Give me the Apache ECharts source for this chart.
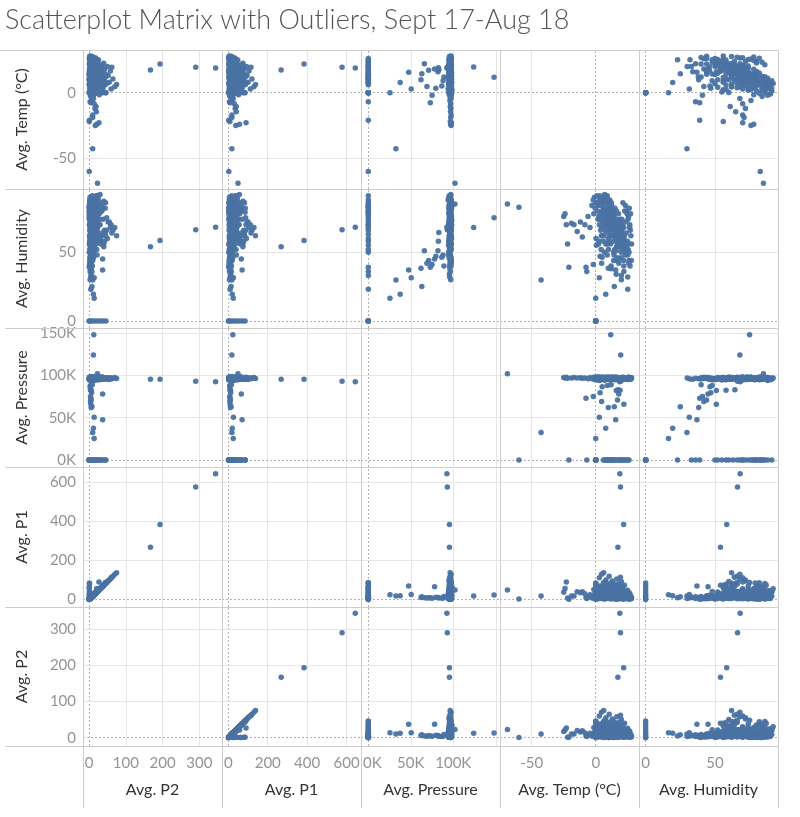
<!DOCTYPE html>
<html><head><meta charset="utf-8">
<script src="https://cdn.jsdelivr.net/npm/echarts@6/dist/echarts.min.js"></script>
<style>html,body{margin:0;padding:0;background:#fff}#c{width:800px;height:817px}</style>
</head><body><div id="c"></div>
<script>
// ---------------- text ----------------
const chartTitle = 'Scatterplot Matrix with Outliers, Sept 17-Aug 18';
// field order inside every record: [P2, P1, Pressure, Temp, Humidity]
const fieldNames = ['Avg. P2', 'Avg. P1', 'Avg. Pressure', 'Avg. Temp (°C)', 'Avg. Humidity'];
const columnFields = [0, 1, 2, 3, 4];   // left -> right
const rowFields = [3, 4, 2, 1, 0];      // top -> bottom
const tickValues = {
  0: [0, 100, 200, 300],
  1: [0, 200, 400, 600],
  2: [0, 50000, 100000, 150000],
  3: [-50, 0],
  4: [0, 50]
};

// ---------------- data ----------------
// [P2, P1, Pressure, Temp, Humidity]
const pmOutliers = [
  [167, 268, 95500, 17.3, 54],
  [193, 384, 95500, 21.8, 58.5],
  [290, 577, 93000, 19.3, 66.3],
  [344, 644, 92500, 18.8, 68.2]
];
const tempOutliers = [
  [23, 49, 102000, -69, 85],
  [0.5, 2.5, 0, -60, 82.7],
  [10, 18, 32500, -42.7, 29.8]
];
const pressureOutliers = [
  [13, 23, 148000, 11.7, 75],
  [12, 18, 124000, 19.5, 68]
];
const midPressure = [
  [14, 25, 25500, 0, 16.5],
  [12, 20, 37500, 7.8, 19.5],
  [14, 26, 50500, 2.8, 31.5],
  [37, 70, 47500, 15.6, 37],
  [8, 14, 63000, 14.5, 25],
  [6, 11, 62000, 9.8, 38.3],
  [5, 9, 66000, 22, 51],
  [4, 8, 69000, 4.6, 42],
  [6, 10, 71000, 17, 44],
  [5, 9, 73000, -7.6, 39],
  [4, 7, 75000, -1.9, 41],
  [37, 66, 78000, 18, 45],
  [7, 12, 79500, 3.4, 47],
  [6, 11, 82000, 16, 51],
  [5, 10, 82500, 19, 58],
  [4, 9, 83000, 17.5, 64.4],
  [3, 7, 86500, 5, 46.4],
  [4, 8, 88000, 9, 48],
  [9, 16, 89000, 12, 40]
];
const coldTail = [
  [17, 38, 97500, -25, 76],
  [21, 57, 97000, -24, 78],
  [27, 90, 97800, -23, 70],
  [1, 8, 96500, -22, 56],
  [10, 18, 97000, -19, 71],
  [10, 18, 97500, -17, 70],
  [20, 40, 96800, -14.5, 65],
  [16, 35, 97200, -12, 72],
  [19, 40, 96500, -10.5, 61],
  [14, 30, 97000, -8.5, 70],
  [8, 16, 96000, -6, 76],
  [12, 25, 97500, -4.5, 68]
];
const pressureZero = [
  [2, 5, 0, 8, 88], [5, 10, 0, 10, 85], [3, 7, 0, 12, 80], [8, 15, 0, 14, 78],
  [12, 22, 0, 16, 72], [4, 9, 0, 18, 70], [6, 12, 0, 20, 66], [15, 28, 0, 22, 60],
  [3, 6, 0, 24, 55], [2, 4, 0, 26, 50], [20, 40, 0, 9, 91], [25, 48, 0, 11, 83],
  [9, 18, 0, 13, 76], [30, 58, 0, 7, 86], [1, 3, 0, 15, 74], [44, 86, 0, 6, 82],
  [7, 14, 0, 17, 68], [10, 20, 0, 19, 63], [4, 8, 0, 21, 58], [2, 5, 0, 23, 52],
  [35, 65, 0, 8, 80], [1, 2, 0, -21, 39], [3, 6, 0, -7, 36], [5, 9, 0, 25, 23],
  [6, 12, 0, 20, 33], [18, 34, 0, 12, 70], [0.5, 30, 0, 14, 77], [0.5, 60, 0, 10, 84],
  [1, 85, 0, 12, 79]
];
const allZeroWeather = [
  [0, 0, 0, 0, 0], [3, 6, 0, 0, 0], [8, 15, 0, 0, 0], [14, 27, 0, 0, 0],
  [22, 40, 0, 0, 0], [30, 55, 0, 0, 0], [38, 70, 0, 0, 0], [46, 85, 0, 0, 0]
];
const mainCluster = [
  [5, 9, 96000, -3, 84], [12, 22, 97500, -2, 88], [28, 52, 96500, -1.5, 78], [8, 15, 95000, -1, 90],
  [18, 33, 98000, -0.5, 82], [45, 82, 96000, 0, 86], [3, 6, 94500, 0.5, 55], [22, 40, 97000, 1, 91],
  [10, 19, 95500, 1.5, 80], [35, 64, 98500, 2, 84], [6, 11, 96500, 2.5, 58], [15, 28, 94000, 3, 88],
  [60, 112, 97000, 2.8, 70],
  [4, 8, 95000, 3.5, 78], [25, 46, 96000, 4, 89], [70, 130, 97500, 4.5, 68], [9, 17, 98000, 5, 85],
  [14, 26, 95500, 5.5, 76], [40, 75, 96500, 6, 87], [2, 4, 94500, 6.5, 70], [30, 56, 97000, 7, 92],
  [18, 33, 96000, 7.5, 79], [55, 100, 95000, 8, 72], [7, 13, 97500, 3.8, 66], [12, 23, 96800, 4.8, 62],
  [33, 60, 95800, 5.2, 80], [75, 138, 96300, 6.2, 62], [20, 37, 94800, 6.8, 82], [11, 21, 98200, 7.8, 73],
  [48, 88, 96700, 7.3, 75], [3, 6, 95200, 8, 90],
  [16, 30, 96000, 8.5, 86], [6, 12, 97000, 9, 77], [38, 70, 95500, 9.5, 82], [24, 44, 98000, 10, 70],
  [65, 120, 96500, 10.5, 66], [9, 17, 94500, 11, 88], [29, 54, 97500, 11.5, 74], [4, 8, 96000, 12, 68],
  [13, 24, 95000, 12.5, 84], [52, 95, 97000, 13, 72], [19, 35, 96300, 8.8, 64], [8, 15, 95700, 9.8, 60],
  [42, 78, 96900, 10.8, 66], [27, 50, 94900, 11.8, 79], [2, 5, 97800, 12.8, 76], [15, 27, 96100, 9.3, 71],
  [33, 62, 95300, 10.3, 58], [10, 18, 97200, 12.3, 62],
  [5, 10, 96000, 13.5, 78], [21, 39, 95500, 14, 70], [44, 80, 97000, 14.5, 64], [11, 20, 96500, 15, 82],
  [3, 6, 98000, 15.5, 60], [26, 48, 95000, 16, 74], [58, 105, 96800, 16.5, 68], [8, 15, 97400, 17, 56],
  [17, 31, 94600, 17.5, 66], [36, 66, 96200, 13.8, 58], [13, 25, 95800, 14.8, 52], [6, 11, 97100, 15.8, 72],
  [30, 55, 96400, 16.8, 62], [2, 4, 95400, 17.8, 78], [22, 41, 97700, 13.3, 66], [9, 16, 94700, 14.3, 48],
  [15, 28, 96600, 16.3, 54],
  [4, 8, 96000, 18, 62], [19, 35, 95500, 18.5, 70], [32, 60, 97000, 19, 56], [10, 19, 96500, 19.5, 66],
  [50, 92, 95300, 20, 60], [6, 12, 97500, 20.5, 52], [24, 45, 96200, 21, 64], [14, 26, 94800, 21.5, 58],
  [3, 6, 97200, 22, 68], [40, 74, 96700, 22.5, 54], [8, 15, 95700, 23, 48], [17, 31, 96900, 18.8, 74],
  [12, 22, 95100, 19.8, 46], [28, 52, 97800, 20.8, 70], [5, 9, 96300, 21.8, 44], [62, 115, 96100, 19.3, 64],
  [7, 13, 96000, 23.5, 72], [15, 28, 95500, 24, 52], [3, 6, 97000, 24.5, 78], [22, 41, 96500, 25, 48],
  [10, 18, 95000, 25.5, 56], [5, 9, 97500, 26, 44], [18, 33, 96000, 26.5, 68], [2, 4, 96800, 27, 66],
  [9, 17, 95600, 27.5, 62], [4, 8, 97200, 28, 56], [12, 22, 96400, 23.8, 64], [26, 48, 95200, 24.8, 58],
  [6, 11, 97700, 25.8, 42],
  [4, 8, 96000, 12, 38], [6, 11, 95500, 16, 34], [3, 6, 97000, 20, 30], [8, 15, 96500, 22, 36],
  [5, 9, 95800, 25, 32], [2, 4, 96200, 18, 42], [10, 19, 97300, 14, 44],
  [0.5, 20, 96500, 10, 75], [1, 45, 96000, 14, 70], [0.8, 65, 97000, 6, 80], [1.5, 80, 95500, 18, 62],
  [2, 35, 96800, 22, 58]
];
const lowPmCluster = [
  [3, 6, 95800, 0.2, 60], [7, 13, 96900, 1.2, 86], [2, 4, 97400, 2.2, 56], [9, 17, 95300, 3.2, 91], [4, 8, 96200, 4.2, 52],
  [6, 12, 97600, 5.8, 88], [1, 3, 94900, 6.8, 50], [8, 14, 96400, 7.2, 86], [5, 10, 95900, 8.2, 68], [11, 20, 97100, 9.2, 82],
  [3, 5, 96700, 10.2, 78], [7, 12, 95100, 11.2, 72], [2, 4, 97900, 12.2, 86], [10, 18, 96300, 13.2, 62], [4, 7, 95600, 14.2, 76],
  [6, 11, 97300, 15.2, 66], [1, 2, 96100, 16.2, 80], [9, 16, 95400, 17.2, 60], [3, 6, 97000, 18.2, 72], [5, 9, 96600, 19.2, 58],
  [8, 14, 95200, 20.2, 68], [2, 3, 97500, 21.2, 86], [7, 13, 96000, 22.2, 56], [4, 8, 96800, 23.2, 84], [6, 10, 95700, 24.2, 80],
  [3, 5, 97100, 25.2, 74], [1, 2, 96400, 26.2, 82], [5, 9, 95500, 27.2, 78], [2, 4, 96900, 27.8, 44], [4, 7, 97300, 26.8, 40],
  [8, 15, 96200, 1.8, 74], [12, 22, 95600, 3.6, 84], [14, 26, 97200, 5.4, 72], [11, 20, 96500, 6.4, 90], [13, 24, 95800, 8.4, 78],
  [10, 19, 97700, 9.6, 74], [12, 21, 96100, 10.6, 86], [14, 25, 95300, 12.6, 70], [11, 19, 96900, 13.6, 80], [13, 23, 97400, 15.4, 62],
  [10, 18, 95900, 16.6, 70], [12, 21, 96300, 17.6, 64], [14, 24, 97000, 18.6, 54], [11, 20, 95600, 19.6, 72], [13, 22, 96700, 20.6, 60],
  [10, 17, 97200, 22.6, 80], [12, 20, 95400, 23.6, 50], [14, 26, 96500, 24.6, 56], [11, 19, 97800, 25.6, 76], [13, 24, 96000, 26.6, 70],
  [2, 4, 96600, 11.6, 56], [4, 8, 95300, 13.9, 50], [3, 6, 97500, 16.9, 46], [6, 11, 96200, 19.9, 50], [1, 3, 95800, 21.9, 40],
  [5, 9, 97100, 9.9, 52], [3, 5, 96400, 7.9, 56], [7, 13, 95900, 5.9, 58], [2, 5, 96800, 4.4, 62], [9, 16, 97400, 15.9, 44]
];
const midPmCluster = [
  [20, 36, 96000, 2.4, 76], [23, 42, 97200, 4.9, 85], [19, 34, 95500, 9.4, 88], [21, 38, 96700, 12.9, 76], [23, 43, 95900, 15.2, 68],
  [20, 37, 97300, 17.9, 62], [22, 40, 96300, 20.4, 74], [19, 35, 95700, 23.3, 56], [21, 39, 96900, 25.3, 52], [23, 42, 97600, 22.3, 62],
  [30, 55, 96000, 8.9, 70], [34, 62, 95400, 11.3, 62], [31, 57, 97100, 17.3, 60], [38, 70, 96500, 3.3, 74], [27, 50, 95800, 20.1, 58],
  [45, 83, 96900, 12.1, 62], [42, 78, 95600, 18.1, 58], [48, 89, 97200, 6.9, 66], [36, 66, 96300, 21.3, 64], [40, 74, 96000, 9.1, 56]
];

// ---------------- layout / style ----------------
const colLines = [83, 222, 361, 500, 639, 778];
const rowLines = [50, 189, 328, 467, 607, 746];
const xRange = { 0: [-16.3, 361.4], 1: [-32, 673], 2: [-8600, 155000], 3: [-74.8, 33.8], 4: [-4.8, 95.5] };
const yRange = { 0: [-22.9, 361], 1: [-38, 679], 2: [-8300, 156000], 3: [-73.4, 32.5], 4: [-5.1, 96] };
const dotColor = '#4a72a3';
const fontFam = 'Lato, "Open Sans", sans-serif';
const tickColor = '#949494';

const records = [].concat(mainCluster, lowPmCluster, midPmCluster, pressureZero, allZeroWeather,
  midPressure, coldTail, pressureOutliers, tempOutliers, pmOutliers);

function fmt(field, isX) {
  if (field === 2) {
    // the first pressure label is nudged right, as it would cross the cell border
    return v => (isX && v === 0) ? '{edge|0K}' : Math.round(v / 1000) + 'K';
  }
  return v => String(v);
}

const option = {
  animation: false,
  backgroundColor: '#ffffff',
  dataset: [{ source: records, dimensions: ['p2', 'p1', 'pressure', 'temp', 'humidity'] }],
  grid: [], xAxis: [], yAxis: [], series: [], graphic: []
};

rowFields.forEach((fy, r) => {
  columnFields.forEach((fx, c) => {
    const idx = option.grid.length;
    option.grid.push({
      left: colLines[c], top: rowLines[r],
      width: colLines[c + 1] - colLines[c], height: rowLines[r + 1] - rowLines[r]
    });
    const bottom = r === rowFields.length - 1;
    const left = c === 0;
    const xr = xRange[fx], yr = yRange[fy];
    option.xAxis.push({
      type: 'value', gridIndex: idx, min: xr[0], max: xr[1],
      axisLine: { show: false }, axisTick: { show: false }, splitLine: { show: false },
      axisLabel: bottom ? { show: true, customValues: tickValues[fx].filter(v => v <= xr[1] - 0.06 * (xr[1] - xr[0])), formatter: fmt(fx, true),
        color: tickColor, fontSize: 15, fontFamily: fontFam, margin: 10,
        rich: { edge: { padding: [0, 0, 0, 8], color: tickColor, fontSize: 15, fontFamily: fontFam } } } : { show: false },
      name: bottom ? fieldNames[fx] : '', nameLocation: 'middle', nameGap: 36,
      nameTextStyle: { color: '#333', fontSize: 16, fontFamily: fontFam }
    });
    option.yAxis.push({
      type: 'value', gridIndex: idx, min: yr[0], max: yr[1],
      axisLine: { show: false }, axisTick: { show: false }, splitLine: { show: false },
      axisLabel: left ? { show: true, customValues: tickValues[fy], formatter: fmt(fy, false),
        color: tickColor, fontSize: 15, fontFamily: fontFam, margin: 7 } : { show: false },
      name: left ? fieldNames[fy] : '', nameLocation: 'middle', nameGap: 53, nameRotate: 90,
      nameTextStyle: { color: '#333', fontSize: 16, fontFamily: fontFam }
    });
    const gridStyle = { color: '#e6e6e6', width: 1, type: 'solid' };
    const zeroStyle = { color: '#b4b4b4', width: 1, type: [2, 2] };
    const lines = [];
    tickValues[fx].forEach(v => { if (v > xr[0] && v < xr[1]) lines.push({ xAxis: v, lineStyle: v === 0 ? zeroStyle : gridStyle }); });
    tickValues[fy].forEach(v => { if (v > yr[0] && v < yr[1]) lines.push({ yAxis: v, lineStyle: v === 0 ? zeroStyle : gridStyle }); });
    option.series.push({
      type: 'scatter', xAxisIndex: idx, yAxisIndex: idx, datasetIndex: 0,
      encode: { x: fx, y: fy }, symbolSize: 5.5, z: 3,
      itemStyle: { color: dotColor, opacity: 0.95 },
      markLine: { silent: true, symbol: 'none', z: 1, label: { show: false }, data: lines, animation: false }
    });
  });
});

// title and cell separators
option.graphic.push({ type: 'text', left: 5, top: 7, style: { text: chartTitle, fontSize: 27, fontFamily: fontFam, fontWeight: 300, fill: '#555' } });
rowLines.forEach((y, i) => option.graphic.push({ type: 'line', shape: { x1: i === 0 ? 0 : 5, y1: y + 0.5, x2: 778, y2: y + 0.5 }, style: { stroke: '#cdcdcd', lineWidth: 1 }, z: 10 }));
colLines.forEach(x => option.graphic.push({ type: 'line', shape: { x1: x + 0.5, y1: 50, x2: x + 0.5, y2: 808 }, style: { stroke: '#cdcdcd', lineWidth: 1 }, z: 10 }));

echarts.init(document.getElementById('c'), null, { renderer: 'canvas' }).setOption(option);
</script>
</body></html>
